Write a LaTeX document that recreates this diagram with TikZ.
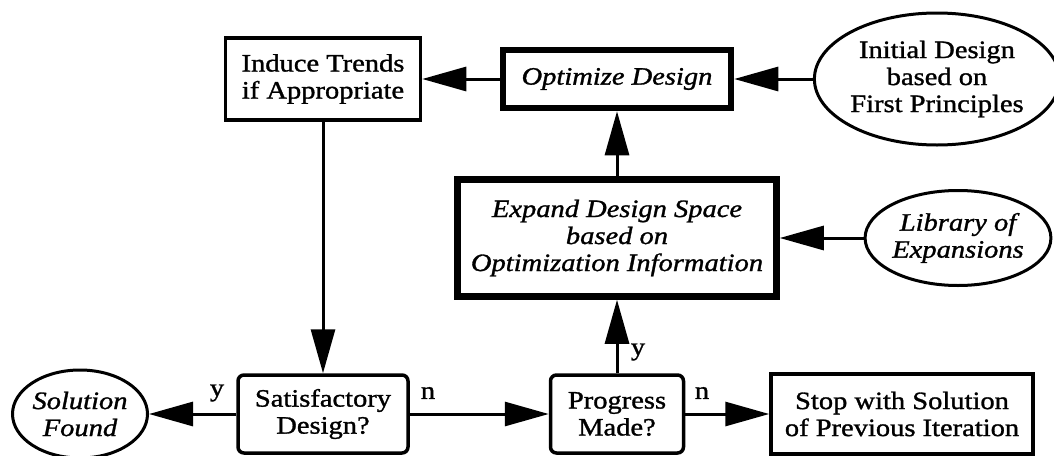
\documentclass[tikz,border=0pt]{standalone}
\usepackage{fontspec}
\setmainfont{Liberation Serif}[FakeStretch=1.14, FakeBold=1.2]
\usetikzlibrary{arrows.meta,shapes.geometric}
\begin{document}
\begin{tikzpicture}[x=1pt,y=-1pt,
  every node/.style={font=\fontsize{25}{27}\selectfont, align=center, inner sep=0pt},
  plainbox/.style={draw, line width=3.5pt, rectangle},
  thickbox/.style={draw, line width=6.5pt, rectangle},
  roundbox/.style={draw, line width=3.5pt, rectangle, rounded corners=6pt},
  oval/.style={draw, line width=3pt, ellipse, inner sep=0pt},
  flow/.style={line width=3pt, -{Triangle[length=44pt,width=24pt]}},
  lbl/.style={font=\fontsize{25}{27}\selectfont}
]
\useasboundingbox[fill=white] (0,0) rectangle (1054,455);

\node[plainbox, minimum width=195pt, minimum height=82pt] (induce) at (323,79) {Induce Trends\\if Appropriate};
\node[thickbox, minimum width=228pt, minimum height=58pt] (optimize) at (617,79) {\itshape Optimize Design};
\node[oval, minimum width=231pt, minimum height=132pt] (initial) at (937,79) {Initial Design\\based on\\First Principles};
\node[thickbox, minimum width=319pt, minimum height=117pt] (expand) at (617,238) {\itshape Expand Design Space\\\itshape based on\\\itshape Optimization Information};
\node[oval, minimum width=178pt, minimum height=95pt] (library) at (958,238) {\itshape Library of\\\itshape Expansions};
\node[roundbox, minimum width=170pt, minimum height=78pt] (satisf) at (323,414) {Satisfactory\\Design?};
\node[roundbox, minimum width=133pt, minimum height=78pt] (progress) at (617,414) {Progress\\Made?};
\node[plainbox, minimum width=262pt, minimum height=80pt] (stop) at (902,414) {Stop with Solution\\of Previous Iteration};
\node[oval, minimum width=135pt, minimum height=88pt] (solution) at (80,414) {\itshape Solution\\\itshape Found};

\draw[flow] (initial.west) -- (optimize.east);
\draw[flow] (optimize.west) -- (induce.east);
\draw[flow] (induce.south) -- (satisf.north);
\draw[flow] (expand.north) -- (optimize.south);
\draw[flow] (library.west) -- (expand.east);
\draw[flow] (progress.north) -- (expand.south);
\draw[flow] (satisf.west) -- (solution.east);
\draw[flow] (satisf.east) -- (progress.west);
\draw[flow] (progress.east) -- (stop.west);

\node[lbl] (ly1) at (217,393) {y};
\node[lbl] (ln1) at (428,393) {n};
\node[lbl] (ly2) at (638,352) {y};
\node[lbl] (ln2) at (702,393) {n};
\end{tikzpicture}
\end{document}
